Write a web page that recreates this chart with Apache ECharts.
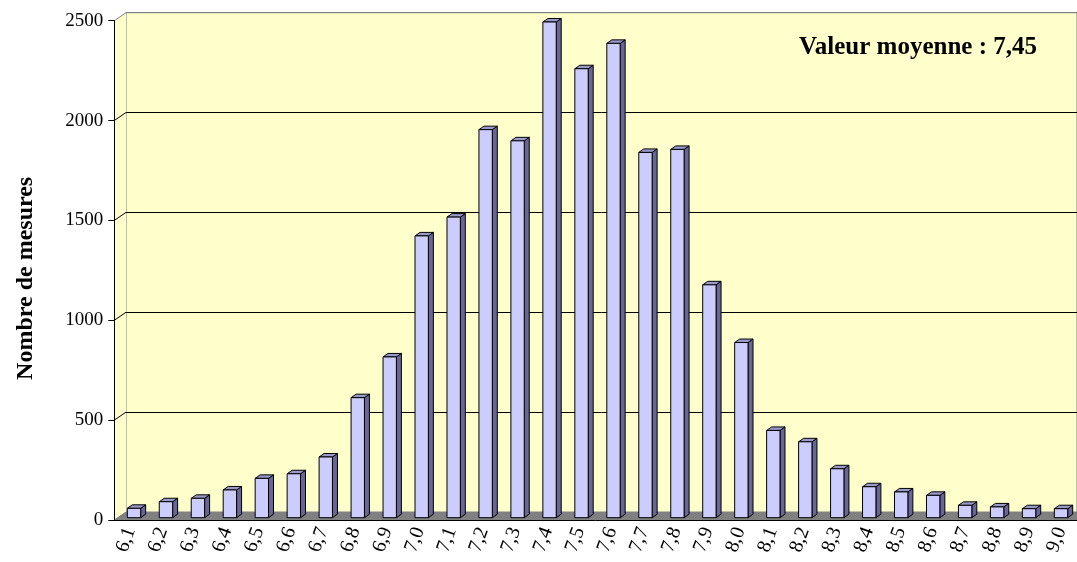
<!DOCTYPE html>
<html><head><meta charset="utf-8">
<script src="https://cdn.jsdelivr.net/npm/echarts@6/dist/echarts.min.js"></script>
<style>html,body{margin:0;padding:0;background:#fff}#c{width:1077px;height:562px}</style>
</head><body><div id="c"></div>
<script>
const categories = ['6,1','6,2','6,3','6,4','6,5','6,6','6,7','6,8','6,9','7,0','7,1','7,2','7,3','7,4','7,5','7,6','7,7','7,8','7,9','8,0','8,1','8,2','8,3','8,4','8,5','8,6','8,7','8,8','8,9','9,0'];
const counts = [47, 80, 97, 139, 197, 220, 304, 601, 805, 1411, 1505, 1943, 1887, 2482, 2248, 2375, 1829, 1844, 1166, 877, 437, 380, 245, 155, 129, 112, 62, 54, 45, 45];
const yTicks = [0, 500, 1000, 1500, 2000, 2500];
const yTitle = 'Nombre de mesures';
const annotation = 'Valeur moyenne : 7,45';

const FONT = '"Liberation Serif","Times New Roman",serif';
const DX = 11.7, DY = 8;   // wall depth offset
const BX = 5, BY = 3.5;    // bar depth offset

const chart = echarts.init(document.getElementById('c'), null, {renderer: 'canvas'});

const option = {
  animation: false,
  backgroundColor: '#fff',
  title: {
    text: annotation, right: 35, top: 30,
    textStyle: {fontFamily: FONT, fontWeight: 'bold', fontSize: 25, color: '#000'}
  },
  grid: [
    {left: 126, top: 12.7, right: -30, bottom: 50, show: true, backgroundColor: '#FFFFCC', borderColor: '#808080', borderWidth: 1, z: 0},
    {left: 114.3, top: 20.7, width: 962.7, bottom: 42},
    {left: 118, top: 18.4, width: 963, bottom: 44.3}
  ],
  xAxis: [
    {gridIndex: 0, type: 'category', data: categories, show: false},
    {gridIndex: 1, type: 'category', data: categories, z: 5,
      axisLine: {lineStyle: {color: '#000', width: 1}},
      axisTick: {length: 6, lineStyle: {color: '#000'}},
      axisLabel: {rotate: 70, fontFamily: FONT, fontSize: 20, color: '#000', margin: 8}},
    {gridIndex: 2, type: 'category', data: categories, show: false}
  ],
  yAxis: [
    {gridIndex: 0, type: 'value', min: 0, max: 2500, interval: 500,
      axisLine: {show: false}, axisTick: {show: false}, axisLabel: {show: false},
      splitLine: {show: true, lineStyle: {color: ['#808080', '#000', '#000', '#000', '#000', '#808080'], width: 1}}},
    {gridIndex: 1, type: 'value', min: 0, max: 2500, interval: 500, z: 5,
      axisLine: {show: true, lineStyle: {color: '#000', width: 1}},
      axisTick: {show: true, length: 6, lineStyle: {color: '#000'}},
      axisLabel: {fontFamily: FONT, fontSize: 19, color: '#000', margin: 11, formatter: v => String(v)},
      splitLine: {show: false},
      name: yTitle, nameLocation: 'middle', nameGap: 77, nameRotate: 90,
      nameTextStyle: {fontFamily: FONT, fontWeight: 'bold', fontSize: 24, color: '#000', padding: [0, 16, 0, 0]}},
    {gridIndex: 2, type: 'value', min: 0, max: 2500, show: false}
  ],
  series: [
    {
      type: 'custom', xAxisIndex: 1, yAxisIndex: 1, z: 1, silent: true,
      data: yTicks.map(v => [0, v]),
      renderItem: function (params, api) {
        const cs = params.coordSys;
        const v = api.value(1);
        const y = api.coord([0, v])[1];
        const x0 = cs.x;
        const children = [];
        if (params.dataIndex === 0) {
          const yTop = cs.y, yBot = cs.y + cs.height, xR = cs.x + cs.width + 40;
          children.push({type: 'polygon', shape: {points: [[x0, yTop], [x0 + DX, yTop - DY], [x0 + DX, yBot - DY], [x0, yBot]]},
            style: {fill: '#FFFFCC', stroke: null}});
          children.push({type: 'polygon', shape: {points: [[x0, yBot], [xR, yBot], [xR + DX, yBot - DY], [x0 + DX, yBot - DY]]},
            style: {fill: '#808080', stroke: null}});
        }
        const last = v === yTicks[yTicks.length - 1];
        children.push({type: 'line', shape: {x1: x0, y1: y, x2: x0 + DX, y2: y - DY},
          style: {stroke: (last || v === 0) ? '#808080' : '#000', lineWidth: 1}});
        return {type: 'group', children: children};
      }
    },
    {
      type: 'custom', xAxisIndex: 2, yAxisIndex: 2, z: 3, silent: true,
      data: counts.map((v, i) => [i, v]),
      encode: {x: 0, y: 1},
      renderItem: function (params, api) {
        const i = api.value(0), v = api.value(1);
        const top = api.coord([i, v]);
        const base = api.coord([i, 0]);
        const bw = api.size([1, 0])[0];
        const w = bw * 0.418;
        const x0 = top[0] - w / 2, x1 = top[0] + w / 2, yT = top[1], yB = base[1];
        const st = {stroke: '#000', lineWidth: 1, lineJoin: 'round'};
        return {type: 'group', children: [
          {type: 'polygon', shape: {points: [[x1, yT], [x1 + BX, yT - BY], [x1 + BX, yB - BY], [x1, yB]]},
            style: Object.assign({fill: '#666699'}, st)},
          {type: 'polygon', shape: {points: [[x0, yT], [x0 + BX, yT - BY], [x1 + BX, yT - BY], [x1, yT]]},
            style: Object.assign({fill: '#9999CC'}, st)},
          {type: 'rect', shape: {x: x0, y: yT, width: w, height: yB - yT},
            style: Object.assign({fill: '#CCCCFF'}, st)}
        ]};
      }
    }
  ]
};
chart.setOption(option);
</script>
</body></html>
